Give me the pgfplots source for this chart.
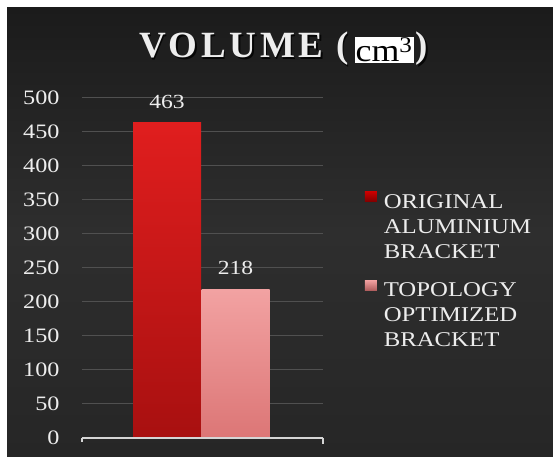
\documentclass[border=0pt]{standalone}
\usepackage{fontspec}
\setmainfont{Liberation Serif}[FakeStretch=1.18]
\newfontfamily\titlefont{Liberation Serif}[LetterSpace=10]
\newfontfamily\boxfont{Liberation Serif}[FakeStretch=1.12]
\usepackage{pgfplots}
\pgfplotsset{compat=1.18}
\definecolor{bgtop}{HTML}{1B1B1B}
\definecolor{bgmid}{HTML}{2E2E2E}
\definecolor{bgbot}{HTML}{262626}
\definecolor{txt}{HTML}{EDEDED}
\definecolor{gridc}{HTML}{505050}
\definecolor{redtop}{HTML}{E01E1E}
\definecolor{redbot}{HTML}{A81010}
\definecolor{pinktop}{HTML}{F2A2A2}
\definecolor{pinkbot}{HTML}{DC7676}
\newcommand{\cmbox}{\hspace{6pt}\raisebox{-4pt}{\setlength\fboxsep{1pt}\colorbox{white}{\color{black}\boxfont\mdseries\fontsize{32}{32}\selectfont cm\textsuperscript{3}}}\hspace{2pt}}
\begin{document}
\begin{tikzpicture}[x=1pt,y=1pt]
\useasboundingbox (0,0) rectangle (553,456);
\fill[white] (0,0) rectangle (553,456);
\shade[top color=bgtop, bottom color=bgbot, middle color=bgmid] (7,0) rectangle (553,448);
% title
\node[anchor=base, text=black, opacity=0.8, font=\titlefont\bfseries\fontsize{37}{37}\selectfont] at (285,396.5) {VOLUME (\phantom{\cmbox})};
\node[anchor=base, text=txt, font=\titlefont\bfseries\fontsize{37}{37}\selectfont] at (283.5,398) {VOLUME (\cmbox)};
\begin{axis}[
  at={(82,27)}, anchor=south west,
  scale only axis, width=241pt, height=340pt,
  xmin=82, xmax=323, ymin=0, ymax=500,
  axis line style={draw=none},
  xtick=\empty,
  ytick={0,50,...,500},
  ymajorgrids,
  major grid style={draw=gridc, line width=0.9pt},
  ytick style={draw=none},
  yticklabel style={text=txt, font=\fontsize{20.5}{20.5}\selectfont, xshift=-19pt},
  /pgf/number format/assume math mode=true,
  legend style={at={(1.16,0.73)}, anchor=north west, draw=none, fill=none,
    text=txt, font=\fontsize{21}{25}\selectfont, row sep=6pt,
    nodes={text height=15pt, text depth=4pt, inner sep=0pt},
    /tikz/every odd column/.append style={column sep=7pt}},
  legend cell align=left,
  nodes near coords,
  nodes near coords style={text=txt, font=\fontsize{20}{20}\selectfont, anchor=south, yshift=11pt},
  clip=false,
]
\addplot[ybar, bar width=68pt, bar shift=0pt, draw=none, top color=redtop, bottom color=redbot,
  legend image code/.code={\shade[top color=red!80!black, bottom color=red!50!black] (0pt,1pt) rectangle (12pt,11pt);}]
  coordinates {(167,463)};
\addlegendentry{ORIGINAL}
\addlegendimage{empty legend}
\addlegendentry{ALUMINIUM}
\addlegendimage{empty legend}
\addlegendentry{BRACKET}
\addlegendimage{empty legend}
\addlegendentry[text height=6pt, text depth=0pt]{}
\addplot[ybar, bar width=68pt, bar shift=0pt, draw=none, top color=pinktop, bottom color=pinkbot,
  legend image code/.code={\shade[top color=pinktop, bottom color=pinkbot!80!black] (0pt,1pt) rectangle (12pt,11pt);}]
  coordinates {(235.5,218)};
\addlegendentry{TOPOLOGY}
\addlegendimage{empty legend}
\addlegendentry{OPTIMIZED}
\addlegendimage{empty legend}
\addlegendentry{BRACKET}
\draw[color=txt!90!black, line width=2pt] (axis cs:82,0) -- (axis cs:323,0);
\draw[color=txt!90!black, line width=1.5pt] (axis cs:82,0) -- ([yshift=-4pt]axis cs:82,0);
\draw[color=txt!90!black, line width=1.5pt] (axis cs:323,0) -- ([yshift=-6pt]axis cs:323,0);
\end{axis}
\end{tikzpicture}
\end{document}
